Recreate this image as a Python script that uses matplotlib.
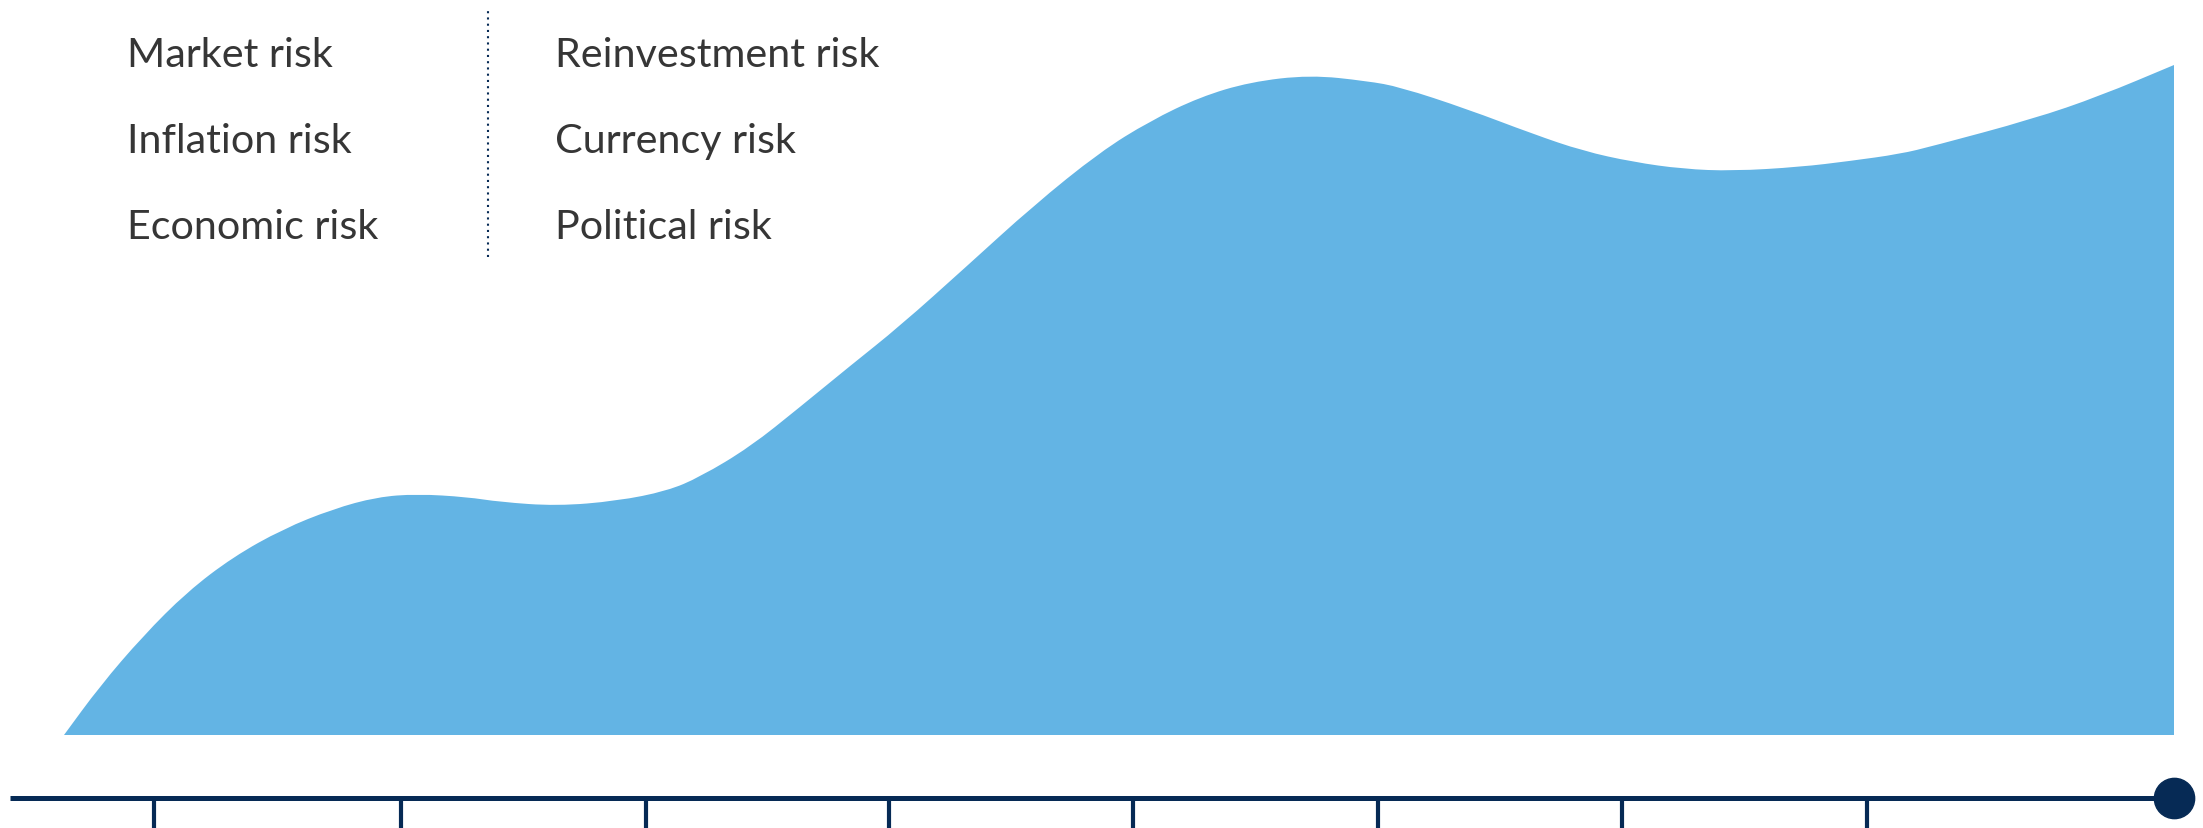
import matplotlib
matplotlib.use("Agg")
import matplotlib.pyplot as plt
from matplotlib.path import Path
from matplotlib.patches import PathPatch

# risk curve (horizontal position, risk level above the baseline)
curve_x = [64, 100, 143, 187, 233, 283, 333, 377, 417, 467, 500, 557, 617, 667,
           700, 750, 800, 850, 900, 967, 1033, 1100, 1150, 1200, 1250, 1310,
           1367, 1400, 1467, 1533, 1583, 1633, 1683, 1733, 1800, 1850, 1900,
           1933, 2033, 2100, 2174]
curve_risk = [0, 49, 99, 143, 178, 206, 226, 238, 241, 238, 233, 229, 234, 244,
              258, 288, 328, 369, 409, 469, 529, 583, 614, 638, 653, 660,
              654, 648, 626, 601, 584, 573, 566, 564, 568, 574, 581,
              589, 616, 639, 670]

# timeline
tick_x = [154, 401, 646, 889, 1133, 1378, 1622, 1867]
timeline_start = 10
timeline_end = 2174

left_labels = ["Market risk", "Inflation risk", "Economic risk"]
right_labels = ["Reinvestment risk", "Currency risk", "Political risk"]

fill_color = "#63B4E4"
navy = "#062A55"
text_color = "#363636"

fig = plt.figure(figsize=(22.03, 8.29), dpi=100)
ax = fig.add_axes([0, 0, 1, 1])
ax.set_xlim(0, 2203)
ax.set_ylim(-93, 736)
ax.axis("off")

# smooth outline: read points used as quadratic control points
pts = list(zip(curve_x, curve_risk))
verts = [pts[0], ((pts[0][0] + pts[1][0]) / 2, (pts[0][1] + pts[1][1]) / 2)]
codes = [Path.MOVETO, Path.LINETO]
for i in range(1, len(pts) - 1):
    mid = ((pts[i][0] + pts[i + 1][0]) / 2, (pts[i][1] + pts[i + 1][1]) / 2)
    verts += [pts[i], mid]
    codes += [Path.CURVE3, Path.CURVE3]
verts += [pts[-1], (curve_x[-1], 0), pts[0]]
codes += [Path.LINETO, Path.LINETO, Path.CLOSEPOLY]
ax.add_patch(PathPatch(Path(verts, codes), facecolor=fill_color, edgecolor="none"))

line_y = -63
ax.hlines(line_y, timeline_start, timeline_end, color=navy, linewidth=3.6)
ax.vlines(tick_x, -93, line_y, color=navy, linewidth=3)
ax.plot([timeline_end], [line_y], "o", color=navy, markersize=29)

# label columns and separator
baselines = [669, 583, 497]
for lab, yb in zip(left_labels, baselines):
    ax.text(127, yb, lab, fontsize=29.7, family="Lato", color=text_color, va="baseline")
for lab, yb in zip(right_labels, baselines):
    ax.text(555, yb, lab, fontsize=29.7, family="Lato", color=text_color, va="baseline")
ax.vlines(488, 478, 727, color=navy, linewidth=1.5, linestyles=(0, (1, 2)))

fig.savefig("out.png", dpi=100)
